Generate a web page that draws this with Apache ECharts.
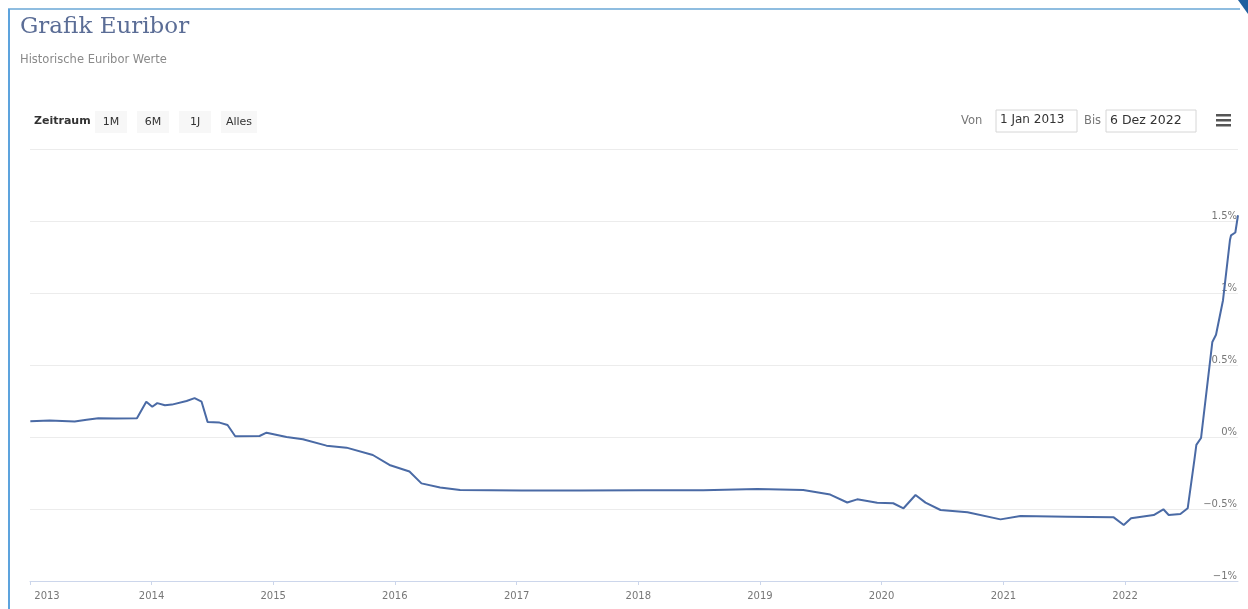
<!DOCTYPE html>
<html>
<head>
<meta charset="utf-8">
<script src="https://cdn.jsdelivr.net/npm/echarts@6/dist/echarts.min.js"></script>
<style>
  html, body { margin: 0; padding: 0; background: #fff; }
  #chart { width: 1248px; height: 609px; }
</style>
</head>
<body>
<div id="chart"></div>
<script>
// 1M Euribor (percent)
const dates = [
  '2013-01-02', '2013-03-01', '2013-05-15', '2013-06-20', '2013-07-25', '2013-09-15', '2013-11-18',
  '2013-12-16', '2014-01-03', '2014-01-18', '2014-02-10', '2014-03-03', '2014-04-16', '2014-05-10',
  '2014-05-31', '2014-06-18', '2014-07-24', '2014-08-17', '2014-09-09', '2014-11-21', '2014-12-12',
  '2015-02-10', '2015-03-31', '2015-06-10', '2015-08-09', '2015-10-27', '2015-12-16', '2016-02-14',
  '2016-03-21', '2016-05-16', '2016-07-15', '2017-01-15', '2017-07-09', '2018-01-15', '2018-07-15',
  '2018-12-24', '2019-05-11', '2019-07-31', '2019-09-20', '2019-10-20', '2019-12-19', '2020-02-05',
  '2020-03-07', '2020-04-12', '2020-05-12', '2020-06-26', '2020-09-15', '2020-12-23', '2021-02-21',
  '2021-07-12', '2021-11-28', '2021-12-28', '2022-01-19', '2022-03-28', '2022-04-26', '2022-05-12',
  '2022-06-16', '2022-07-08', '2022-07-28', '2022-08-03', '2022-08-17', '2022-09-20', '2022-10-01',
  '2022-10-22', '2022-11-12', '2022-11-15', '2022-11-28', '2022-12-06'
];
const rates = [
  0.11, 0.115, 0.108, 0.12, 0.13, 0.128, 0.13,
  0.245, 0.21, 0.235, 0.22, 0.225, 0.25, 0.27,
  0.245, 0.105, 0.10, 0.083, 0.005, 0.007, 0.03,
  0.0, -0.016, -0.06, -0.074, -0.125, -0.194, -0.24,
  -0.322, -0.35, -0.368, -0.372, -0.372, -0.37, -0.37,
  -0.361, -0.368, -0.40, -0.455, -0.433, -0.456, -0.46,
  -0.495, -0.403, -0.456, -0.507, -0.523, -0.572, -0.549,
  -0.553, -0.558, -0.611, -0.565, -0.542, -0.502, -0.542,
  -0.535, -0.495, -0.16, -0.055, -0.007, 0.66, 0.71,
  0.95, 1.37, 1.40, 1.42, 1.54
];
const rangeButtons = ['1M', '6M', '1J', 'Alles'];
const fromLabel = '1 Jan 2013';
const toLabel = '6 Dez 2022';

const seriesData = dates.map(function (d, i) { return [d, rates[i]]; });

const uiFont = '"DejaVu Sans", sans-serif';
const btnX = [95, 137, 179, 221];
const btnW = [32, 32, 32, 36];

const graphics = [
  // frame
  { type: 'line', shape: { x1: 8, y1: 9, x2: 1240, y2: 9 }, style: { stroke: '#8fbde0', lineWidth: 2 } },
  { type: 'line', shape: { x1: 9, y1: 9, x2: 9, y2: 609 }, style: { stroke: '#5da3dd', lineWidth: 2 } },
  { type: 'polygon', shape: { points: [[1238, 0], [1248, 0], [1248, 14]] }, style: { fill: '#1f5f9f' } },
  // title
  { type: 'text', left: 20, top: 16, style: { text: 'Grafik Euribor', fill: '#5b6d96', font: '23px "DejaVu Serif", serif' } },
  { type: 'text', left: 20, top: 54, style: { text: 'Historische Euribor Werte', fill: '#8a8a8a', font: '11.5px ' + uiFont } },
  // range selector
  { type: 'text', left: 34, top: 116, style: { text: 'Zeitraum', fill: '#333', font: 'bold 11px ' + uiFont } },
  // date inputs
  { type: 'text', left: 961, top: 115, style: { text: 'Von', fill: '#777', font: '11.5px ' + uiFont } },
  { type: 'rect', shape: { x: 996, y: 110, width: 81, height: 22 }, style: { fill: '#fff', stroke: '#d6d6d6', lineWidth: 1 } },
  { type: 'text', left: 1000, top: 114, style: { text: fromLabel, fill: '#333', font: '12px ' + uiFont } },
  { type: 'text', left: 1084, top: 115, style: { text: 'Bis', fill: '#777', font: '11.5px ' + uiFont } },
  { type: 'rect', shape: { x: 1106, y: 110, width: 90, height: 22 }, style: { fill: '#fff', stroke: '#d6d6d6', lineWidth: 1 } },
  { type: 'text', left: 1110, top: 114, style: { text: toLabel, fill: '#333', font: '12.5px ' + uiFont } },
  // menu icon
  { type: 'rect', shape: { x: 1216, y: 114, width: 15, height: 2.5 }, style: { fill: '#555' } },
  { type: 'rect', shape: { x: 1216, y: 119, width: 15, height: 2.5 }, style: { fill: '#555' } },
  { type: 'rect', shape: { x: 1216, y: 124, width: 15, height: 2.5 }, style: { fill: '#555' } }
];
rangeButtons.forEach(function (b, i) {
  graphics.push({ type: 'rect', shape: { x: btnX[i], y: 111, width: btnW[i], height: 22 }, style: { fill: '#f7f7f7' } });
  graphics.push({ type: 'text', x: btnX[i] + btnW[i] / 2, y: 122,
    style: { text: b, fill: '#333', font: '11px ' + uiFont, align: 'center', verticalAlign: 'middle' } });
});

const chart = echarts.init(document.getElementById('chart'));
chart.setOption({
  animation: false,
  backgroundColor: '#fff',
  graphic: graphics,
  grid: { left: 30, right: 10, top: 149, bottom: 28, containLabel: false },
  xAxis: {
    type: 'time',
    min: '2013-01-01',
    max: '2022-12-06',
    minInterval: 365 * 24 * 3600 * 1000,
    splitNumber: 10,
    axisLine: { onZero: false, lineStyle: { color: '#ccd6eb' } },
    axisTick: { show: true, length: 4, lineStyle: { color: '#ccd6eb' } },
    splitLine: { show: false },
    axisLabel: {
      color: '#777',
      fontSize: 10,
      fontFamily: 'DejaVu Sans',
      margin: 10,
      hideOverlap: false,
      formatter: function (v) {
        const y = new Date(v).getFullYear();
        return y === 2013 ? '{first|' + y + '}' : String(y);
      },
      rich: { first: { padding: [0, 0, 0, 34], color: '#777', fontSize: 10, fontFamily: 'DejaVu Sans' } }
    }
  },
  yAxis: {
    type: 'value',
    position: 'right',
    min: -1,
    max: 2,
    interval: 0.5,
    axisLine: { show: false },
    axisTick: { show: false },
    splitLine: { lineStyle: { color: '#ececec', width: 1 } },
    axisLabel: {
      inside: true,
      margin: 1,
      showMaxLabel: false,
      verticalAlign: 'bottom',
      color: '#777',
      fontSize: 10,
      fontFamily: 'DejaVu Sans',
      formatter: function (v) { return (v === 2 ? '' : v + '%').replace('-', '\u2212'); }
    }
  },
  series: [{
    type: 'line',
    data: seriesData,
    showSymbol: false,
    lineStyle: { color: '#4a6aa5', width: 2 },
    itemStyle: { color: '#4a6aa5' }
  }]
});
</script>
</body>
</html>
